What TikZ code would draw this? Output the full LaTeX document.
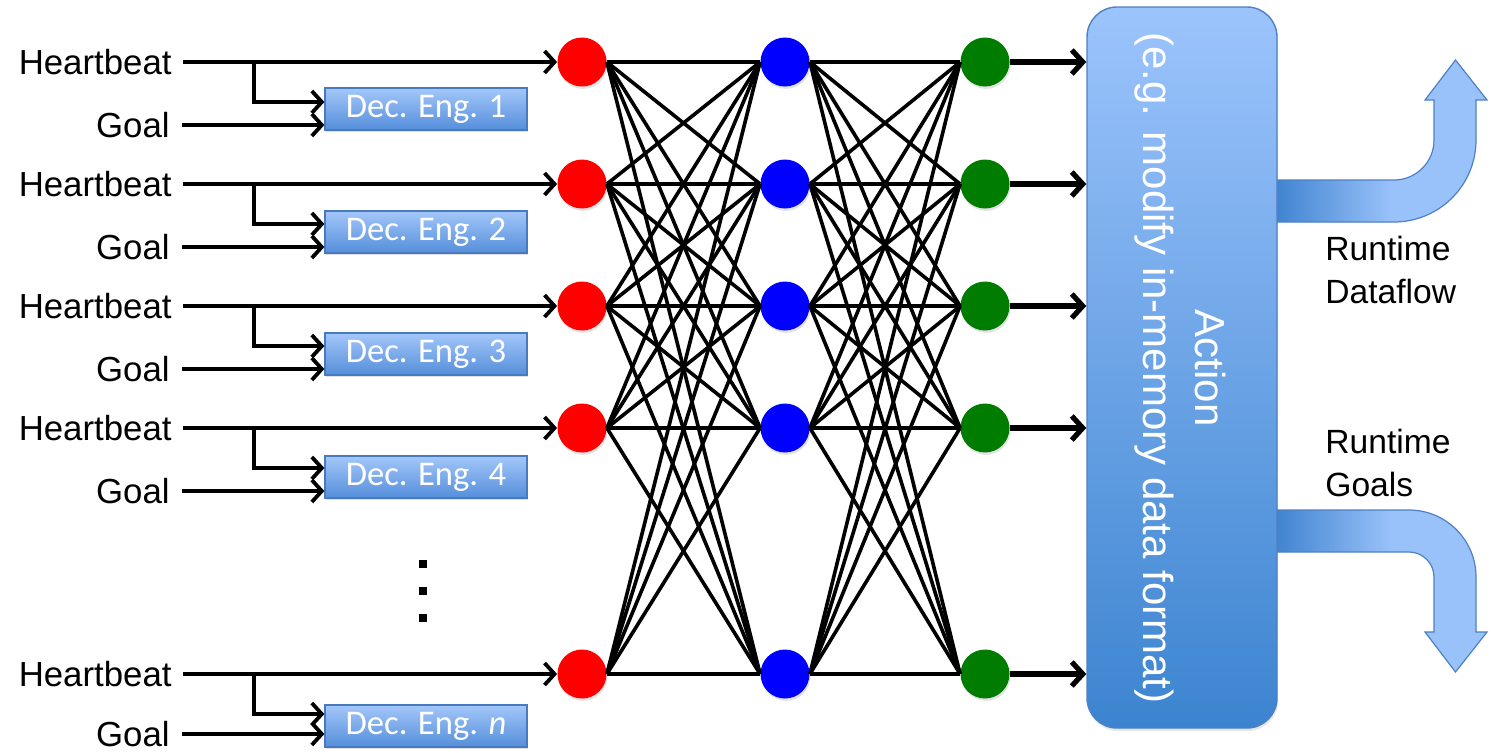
\documentclass[tikz,border=0pt]{standalone}
\usepackage{fontspec}
\setmainfont{Liberation Sans}
\newfontfamily\calfont{Carlito}
\usetikzlibrary{arrows.meta,shadows,calc}
\definecolor{nred}{RGB}{255,0,0}
\definecolor{nblue}{RGB}{0,0,255}
\definecolor{ngreen}{RGB}{0,125,0}
\definecolor{decTop}{RGB}{163,199,250}
\definecolor{decBot}{RGB}{85,142,218}
\definecolor{decLine}{RGB}{72,122,192}
\definecolor{actTop}{RGB}{156,196,252}
\definecolor{actBot}{RGB}{60,132,208}
\definecolor{actLine}{RGB}{78,128,195}
\definecolor{bandDark}{RGB}{60,128,206}
\definecolor{bandLight}{RGB}{153,194,250}
\pgfdeclarehorizontalshading{bandshade}{100bp}{color(0bp)=(bandDark); color(25bp)=(bandDark); color(53bp)=(bandLight); color(100bp)=(bandLight)}
\tikzset{
  lbl/.style={font=\fontsize{17.4}{20}\selectfont, inner sep=0pt, anchor=east},
  sidelbl/.style={font=\fontsize{16.8}{21.5}\selectfont, inner sep=0pt, anchor=north west, align=left},
  wire/.style={line width=1.9pt, -{Straight Barb[length=5pt,width=11pt]}},
  bigwire/.style={line width=2.6pt, -{Straight Barb[length=5.5pt,width=12pt]}},
  mesh/.style={line width=1.8pt},
  neuron/.style={circle, minimum size=24.5pt, inner sep=0pt,
    drop shadow={opacity=0.22, shadow xshift=0.5pt, shadow yshift=-1.2pt}},
  decbox/.style={rectangle, draw=decLine, line width=0.6pt, top color=decTop, bottom color=decBot,
    minimum width=101pt, minimum height=21pt, inner sep=0pt, text=white,
    font=\calfont\fontsize{17.3}{20}\selectfont,
    drop shadow={opacity=0.25, shadow xshift=0.6pt, shadow yshift=-1.2pt}},
  actbox/.style={rectangle, rounded corners=15pt, draw=actLine, line width=0.7pt,
    top color=actTop, bottom color=actBot, minimum width=95pt, minimum height=360.5pt, inner sep=0pt,
    drop shadow={opacity=0.2, shadow xshift=0.5pt, shadow yshift=-1.5pt}},
  band/.style={draw=actLine, line width=0.6pt, shade, shading=bandshade},
}
\begin{document}
\begin{tikzpicture}[x=0.5pt,y=-0.5pt]
\useasboundingbox (0,0) rectangle (1493,752);

% rows
\foreach \i/\hy/\gy/\by/\lab in {1/62/125/109/1, 2/184/247/232/2, 3/306/369/354/3, 4/428/491/477/4, 5/674/734/726/\textit{n}} {
  \node[lbl] (hb\i) at (172,\hy) {Heartbeat};
  \node[lbl] (gl\i) at (170,\gy) {Goal};
  \node[decbox] (dec\i) at (426,\by) {Dec. Eng. \lab};
  \node[neuron, fill=nred] (r\i) at (582,\hy) {};
  \node[neuron, fill=nblue] (b\i) at (785,\hy) {};
  \node[neuron, fill=ngreen] (gr\i) at (985,\hy) {};
  \coordinate (br\i) at (254,\hy);
  \coordinate (bt\i) at (0,\hy+40);
  \draw[wire] ([xshift=5.5pt]hb\i.east) -- (r\i.west);
  \draw[wire] (br\i) |- (dec\i.west |- bt\i);
  \draw[wire] ([xshift=6pt]gl\i.east) -- (dec\i.west |- gl\i.east);
}

% vertical dots
\foreach \dy in {564,591,618}
  \fill (419,\dy-4) rectangle (427,\dy+4);

% fully connected layers
\foreach \i in {1,...,5}
  \foreach \j in {1,...,5} {
    \draw[mesh] (r\i.east) -- (b\j.west);
    \draw[mesh] (b\i.east) -- (gr\j.west);
  }

% output arrows
\draw[band] (1270,180) -- (1394,180) arc[start angle=270, end angle=360, radius=20pt]
  -- (1434,100) -- (1425,100) -- (1455.5,60) -- (1487,100) -- (1476,100) -- (1476,140)
  arc[start angle=0, end angle=-90, radius=41pt] -- (1270,222) -- cycle;
\draw[band] (1270,510) -- (1409,510) arc[start angle=90, end angle=0, radius=33.5pt]
  -- (1476,632) -- (1487,632) -- (1455.5,672) -- (1425,632) -- (1434,632) -- (1434,577)
  arc[start angle=0, end angle=90, radius=12.5pt] -- (1270,552) -- cycle;

% action box
\node[actbox] (act) at (1182,367.5) {};
\node[rotate=-90, text=white, align=center, inner sep=0pt,
  font=\fontsize{21}{26}\selectfont] (actlbl) at (1180,368) {Action\\(e.g. modify in-memory data format)};

\foreach \i in {1,...,5}
  \draw[bigwire] (gr\i.east) -- (gr\i.east -| act.west);

\node[sidelbl] (rdf) at (1325,236) {Runtime\\Dataflow};
\node[sidelbl] (rgo) at (1325,429) {Runtime\\Goals};
\end{tikzpicture}
\end{document}
